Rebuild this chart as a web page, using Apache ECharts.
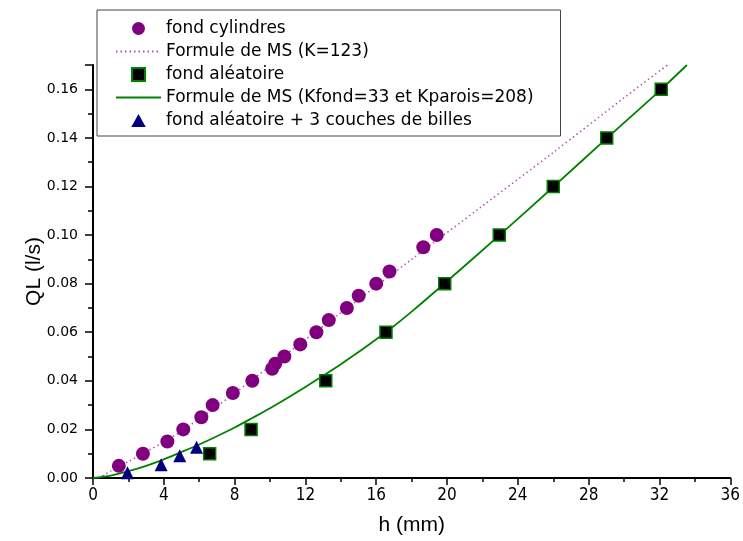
<!DOCTYPE html>
<html>
<head>
<meta charset="utf-8">
<script src="https://cdn.jsdelivr.net/npm/echarts@6/dist/echarts.min.js"></script>
<style>
  html, body { margin: 0; padding: 0; background: #fff; }
  #chart { width: 743px; height: 541px; }
</style>
</head>
<body>
<div id="chart"></div>
<script>
// données : [h (mm), QL (l/s)]
const fondCylindres = [
  [1.46, 0.005], [2.82, 0.010], [4.20, 0.015], [5.10, 0.020], [6.12, 0.025],
  [6.76, 0.030], [7.90, 0.035], [9.00, 0.040], [10.12, 0.045], [10.29, 0.047],
  [10.81, 0.050], [11.71, 0.055], [12.62, 0.060], [13.32, 0.065], [14.34, 0.070],
  [15.01, 0.075], [16.00, 0.080], [16.75, 0.085], [18.66, 0.095], [19.42, 0.100]
];
const formuleK123 = [
  [0.3, 0], [1, 0.0028], [2, 0.0068], [3, 0.0108], [4.5, 0.017], [7, 0.0295],
  [10, 0.046], [14, 0.068], [18, 0.090], [22, 0.112], [26, 0.134], [30, 0.1565], [32.45, 0.17]
];
const fondAleatoire = [
  [6.59, 0.010], [8.93, 0.020], [13.15, 0.040], [16.55, 0.060], [19.87, 0.080],
  [22.95, 0.100], [26.00, 0.120], [29.02, 0.140], [32.10, 0.160]
];
const formuleKfond = [
  [0, 0], [1, 0.001], [2, 0.0028], [3, 0.005], [4, 0.0077], [5, 0.0107], [6, 0.0138],
  [7, 0.0172], [8, 0.0208], [9, 0.0247], [10, 0.0287], [12, 0.0375], [14, 0.0468],
  [16.55, 0.060], [18, 0.0685], [20, 0.081], [23, 0.1002], [26, 0.1198], [29, 0.1397],
  [32.1, 0.160], [33.55, 0.170]
];
const fondBilles = [
  [1.95, 0.0022], [3.85, 0.0055], [4.90, 0.0092], [5.85, 0.0127]
];

const chart = echarts.init(document.getElementById('chart'));

const carre = 'path://M0,0H10V10H0Z';
const triangle = 'path://M5,0L10,9H0Z';
const sansSymbole = { opacity: 0 };

const option = {
  animation: false,
  textStyle: { fontFamily: 'DejaVu Sans, sans-serif', color: '#000' },
  grid: { left: 93, right: 8, top: 65, bottom: 63, containLabel: false },
  legend: {
    orient: 'vertical',
    left: 97,
    top: 10,
    padding: [10, 27, 7, 18],
    itemGap: 6,
    itemWidth: 45,
    itemHeight: 13,
    borderColor: '#444',
    borderWidth: 1,
    backgroundColor: '#fff',
    textStyle: { fontSize: 17, color: '#000', fontFamily: 'DejaVu Sans, sans-serif' },
    data: [
      { name: 'fond cylindres', icon: 'circle' },
      { name: 'Formule de MS (K=123)', itemStyle: sansSymbole },
      { name: 'fond aléatoire', icon: carre },
      { name: 'Formule de MS (Kfond=33 et Kparois=208)', itemStyle: sansSymbole },
      { name: 'fond aléatoire + 3 couches de billes', icon: triangle }
    ]
  },
  xAxis: {
    type: 'value',
    min: 0, max: 36, interval: 4,
    name: 'h (mm)',
    nameLocation: 'middle',
    nameGap: 37,
    nameTextStyle: { fontSize: 21, color: '#000', fontFamily: 'Liberation Sans, Arial, sans-serif' },
    axisLine: { onZero: false, lineStyle: { color: '#000', width: 2 } },
    axisTick: { inside: false, length: 7, lineStyle: { color: '#000', width: 1.5 } },
    minorTick: { show: true, splitNumber: 2, length: 4, lineStyle: { color: '#000', width: 1.5 } },
    axisLabel: { fontSize: 17, color: '#000', margin: 9, fontFamily: 'Liberation Sans Narrow, DejaVu Sans Condensed, sans-serif' },
    splitLine: { show: false }
  },
  yAxis: {
    type: 'value',
    min: 0, max: 0.17, interval: 0.02,
    name: 'QL (l/s)',
    nameLocation: 'middle',
    nameGap: 48,
    nameMoveOverlap: false,
    nameTextStyle: { fontSize: 21, color: '#000', fontFamily: 'Liberation Sans, Arial, sans-serif' },
    axisLine: { show: true, onZero: false, lineStyle: { color: '#000', width: 2 } },
    axisTick: { show: true, inside: false, length: 8, lineStyle: { color: '#000', width: 1.5 } },
    minorTick: { show: true, splitNumber: 2, length: 5, lineStyle: { color: '#000', width: 1.5 } },
    axisLabel: {
      fontSize: 14, color: '#000', margin: 15, showMaxLabel: false,
      formatter: v => v.toFixed(2)
    },
    splitLine: { show: false }
  },
  series: [
    {
      name: 'fond cylindres',
      type: 'scatter',
      data: fondCylindres,
      symbol: 'circle',
      symbolSize: 14,
      itemStyle: { color: '#800080', opacity: 1 },
      z: 5
    },
    {
      name: 'Formule de MS (K=123)',
      type: 'line',
      data: formuleK123,
      smooth: 0.3,
      showSymbol: false,
      color: '#b050b0',
      lineStyle: { color: '#b050b0', width: 1.5, type: [1.5, 3] },
      z: 2
    },
    {
      name: 'fond aléatoire',
      type: 'scatter',
      data: fondAleatoire,
      symbol: 'rect',
      symbolSize: 12,
      itemStyle: { color: '#000', borderColor: '#008000', borderWidth: 1.5, opacity: 1 },
      z: 5
    },
    {
      name: 'Formule de MS (Kfond=33 et Kparois=208)',
      type: 'line',
      data: formuleKfond,
      smooth: 0.3,
      showSymbol: false,
      color: '#008000',
      lineStyle: { color: '#008000', width: 1.8 },
      z: 2
    },
    {
      name: 'fond aléatoire + 3 couches de billes',
      type: 'scatter',
      data: fondBilles,
      symbol: 'triangle',
      symbolSize: 13,
      itemStyle: { color: '#000080', opacity: 1 },
      z: 5
    }
  ]
};

chart.setOption(option);
</script>
</body>
</html>
